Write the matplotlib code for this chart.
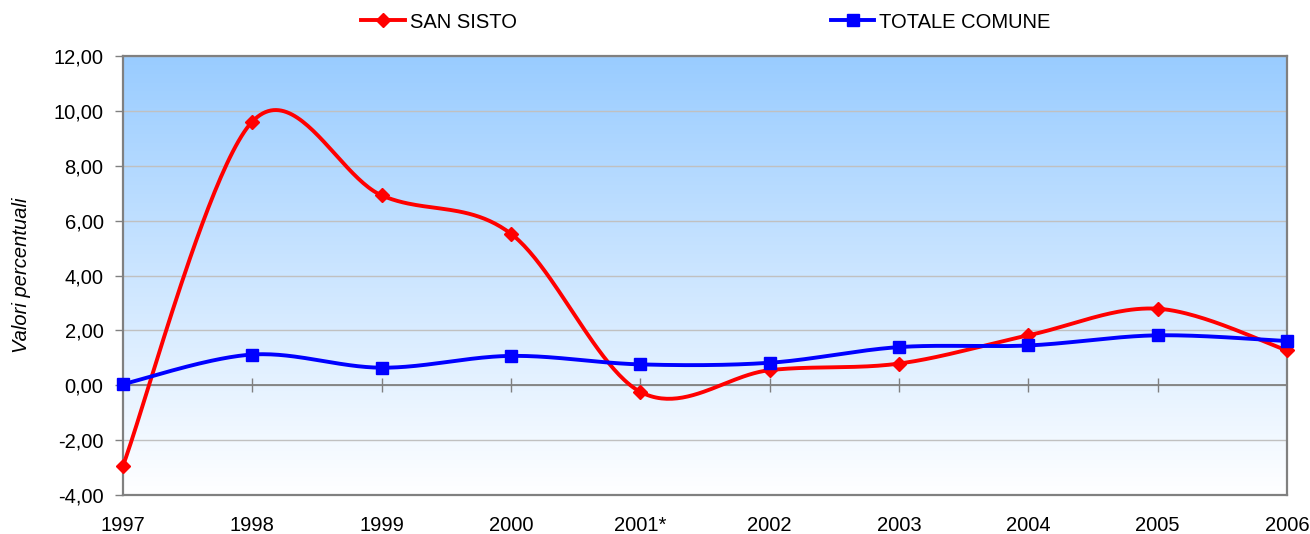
import numpy as np
import matplotlib
matplotlib.use('Agg')
import matplotlib.pyplot as plt
from matplotlib.lines import Line2D
from matplotlib.ticker import FuncFormatter, MultipleLocator

plt.rcParams['font.family'] = ['Liberation Sans', 'DejaVu Sans']

years = ['1997', '1998', '1999', '2000', '2001*', '2002', '2003', '2004', '2005', '2006']
san_sisto = [-2.93, 9.61, 6.92, 5.52, -0.24, 0.55, 0.79, 1.82, 2.79, 1.27]
totale_comune = [0.04, 1.12, 0.64, 1.07, 0.76, 0.82, 1.39, 1.45, 1.82, 1.61]

RED = '#FF0000'
BLUE = '#0000FF'
GRAY = '#808080'
FS = 14.5


def smooth(xs, ys, n=50):
    """Excel-like smoothed line: cubic Bezier through points (Catmull-Rom, 1/6)."""
    pts = np.column_stack([np.asarray(xs, float), np.asarray(ys, float)])
    out = []
    m = len(pts)
    t = np.linspace(0, 1, n)[:, None]
    for i in range(m - 1):
        p0 = pts[i - 1] if i > 0 else pts[i]
        p1 = pts[i]
        p2 = pts[i + 1]
        p3 = pts[i + 2] if i + 2 < m else pts[i + 1]
        c1 = p1 + (p2 - p0) / 6.0
        c2 = p2 - (p3 - p1) / 6.0
        seg = ((1 - t) ** 3) * p1 + 3 * ((1 - t) ** 2) * t * c1 + 3 * (1 - t) * t ** 2 * c2 + t ** 3 * p2
        out.append(seg if i == 0 else seg[1:])
    arr = np.vstack(out)
    return arr[:, 0], arr[:, 1]


W, H = 1310, 534
fig = plt.figure(figsize=(W / 100, H / 100), dpi=100)
ax = fig.add_axes([123 / W, (H - 495) / H, (1287 - 123) / W, (495 - 56) / H])

x = np.arange(len(years))

# gradient background
grad = np.linspace(0, 1, 256)[:, None]
top = np.array([0x99, 0xCC, 0xFF]) / 255.0
bot = np.array([1.0, 1.0, 1.0])
img = top[None, None, :] * (1 - grad[:, :, None]) + bot[None, None, :] * grad[:, :, None]
ax.imshow(img, extent=[0, 1, 0, 1], transform=ax.transAxes, aspect='auto', zorder=0)

ax.set_xlim(0, len(years) - 1)
ax.set_ylim(-4, 12)
ax.yaxis.set_major_locator(MultipleLocator(2))
ax.yaxis.set_major_formatter(FuncFormatter(lambda v, p: f"{v:.2f}".replace('.', ',')))
ax.grid(axis='y', color='#C0C0C0', lw=1, zorder=1)
ax.set_axisbelow(True)

# zero line with category tick marks
ax.axhline(0, color=GRAY, lw=1.3, zorder=2)
ax.plot(x[1:-1], np.zeros(len(x) - 2), ls='none', marker='|', ms=10, mew=1, color=GRAY, zorder=2)

sx, sy = smooth(x, san_sisto)
ax.plot(sx, sy, color=RED, lw=2.8, zorder=3, solid_capstyle='round')
ax.plot(x, san_sisto, ls='none', marker='D', ms=7, color=RED, zorder=4, clip_on=False)

tx, ty = smooth(x, totale_comune)
ax.plot(tx, ty, color=BLUE, lw=2.8, zorder=5, solid_capstyle='round')
ax.plot(x, totale_comune, ls='none', marker='s', ms=8.5, color=BLUE, zorder=6, clip_on=False)

ax.set_xticks(x)
ax.set_xticklabels(years, fontsize=FS)
ax.tick_params(axis='x', length=0, pad=15)
ax.tick_params(axis='y', length=6, color=GRAY, width=1, labelsize=FS, pad=8)

for s in ax.spines.values():
    s.set_color(GRAY)
    s.set_linewidth(1.6)

fig.text(22 / W, 1 - 275 / H, 'Valori percentuali', rotation=90, ha='center', va='center',
         fontsize=FS, style='italic')

handles = [Line2D([], [], color=RED, lw=2.8, marker='D', ms=7),
           Line2D([], [], color=BLUE, lw=2.8, marker='s', ms=8.5)]
fig.legend(handles, ['SAN SISTO', 'TOTALE COMUNE'], ncol=2, loc='center',
           bbox_to_anchor=(706 / W, 1 - 22 / H), frameon=False, fontsize=FS,
           handlelength=2.15, handletextpad=0.25, columnspacing=15.6)

fig.savefig('out.png', dpi=100)
